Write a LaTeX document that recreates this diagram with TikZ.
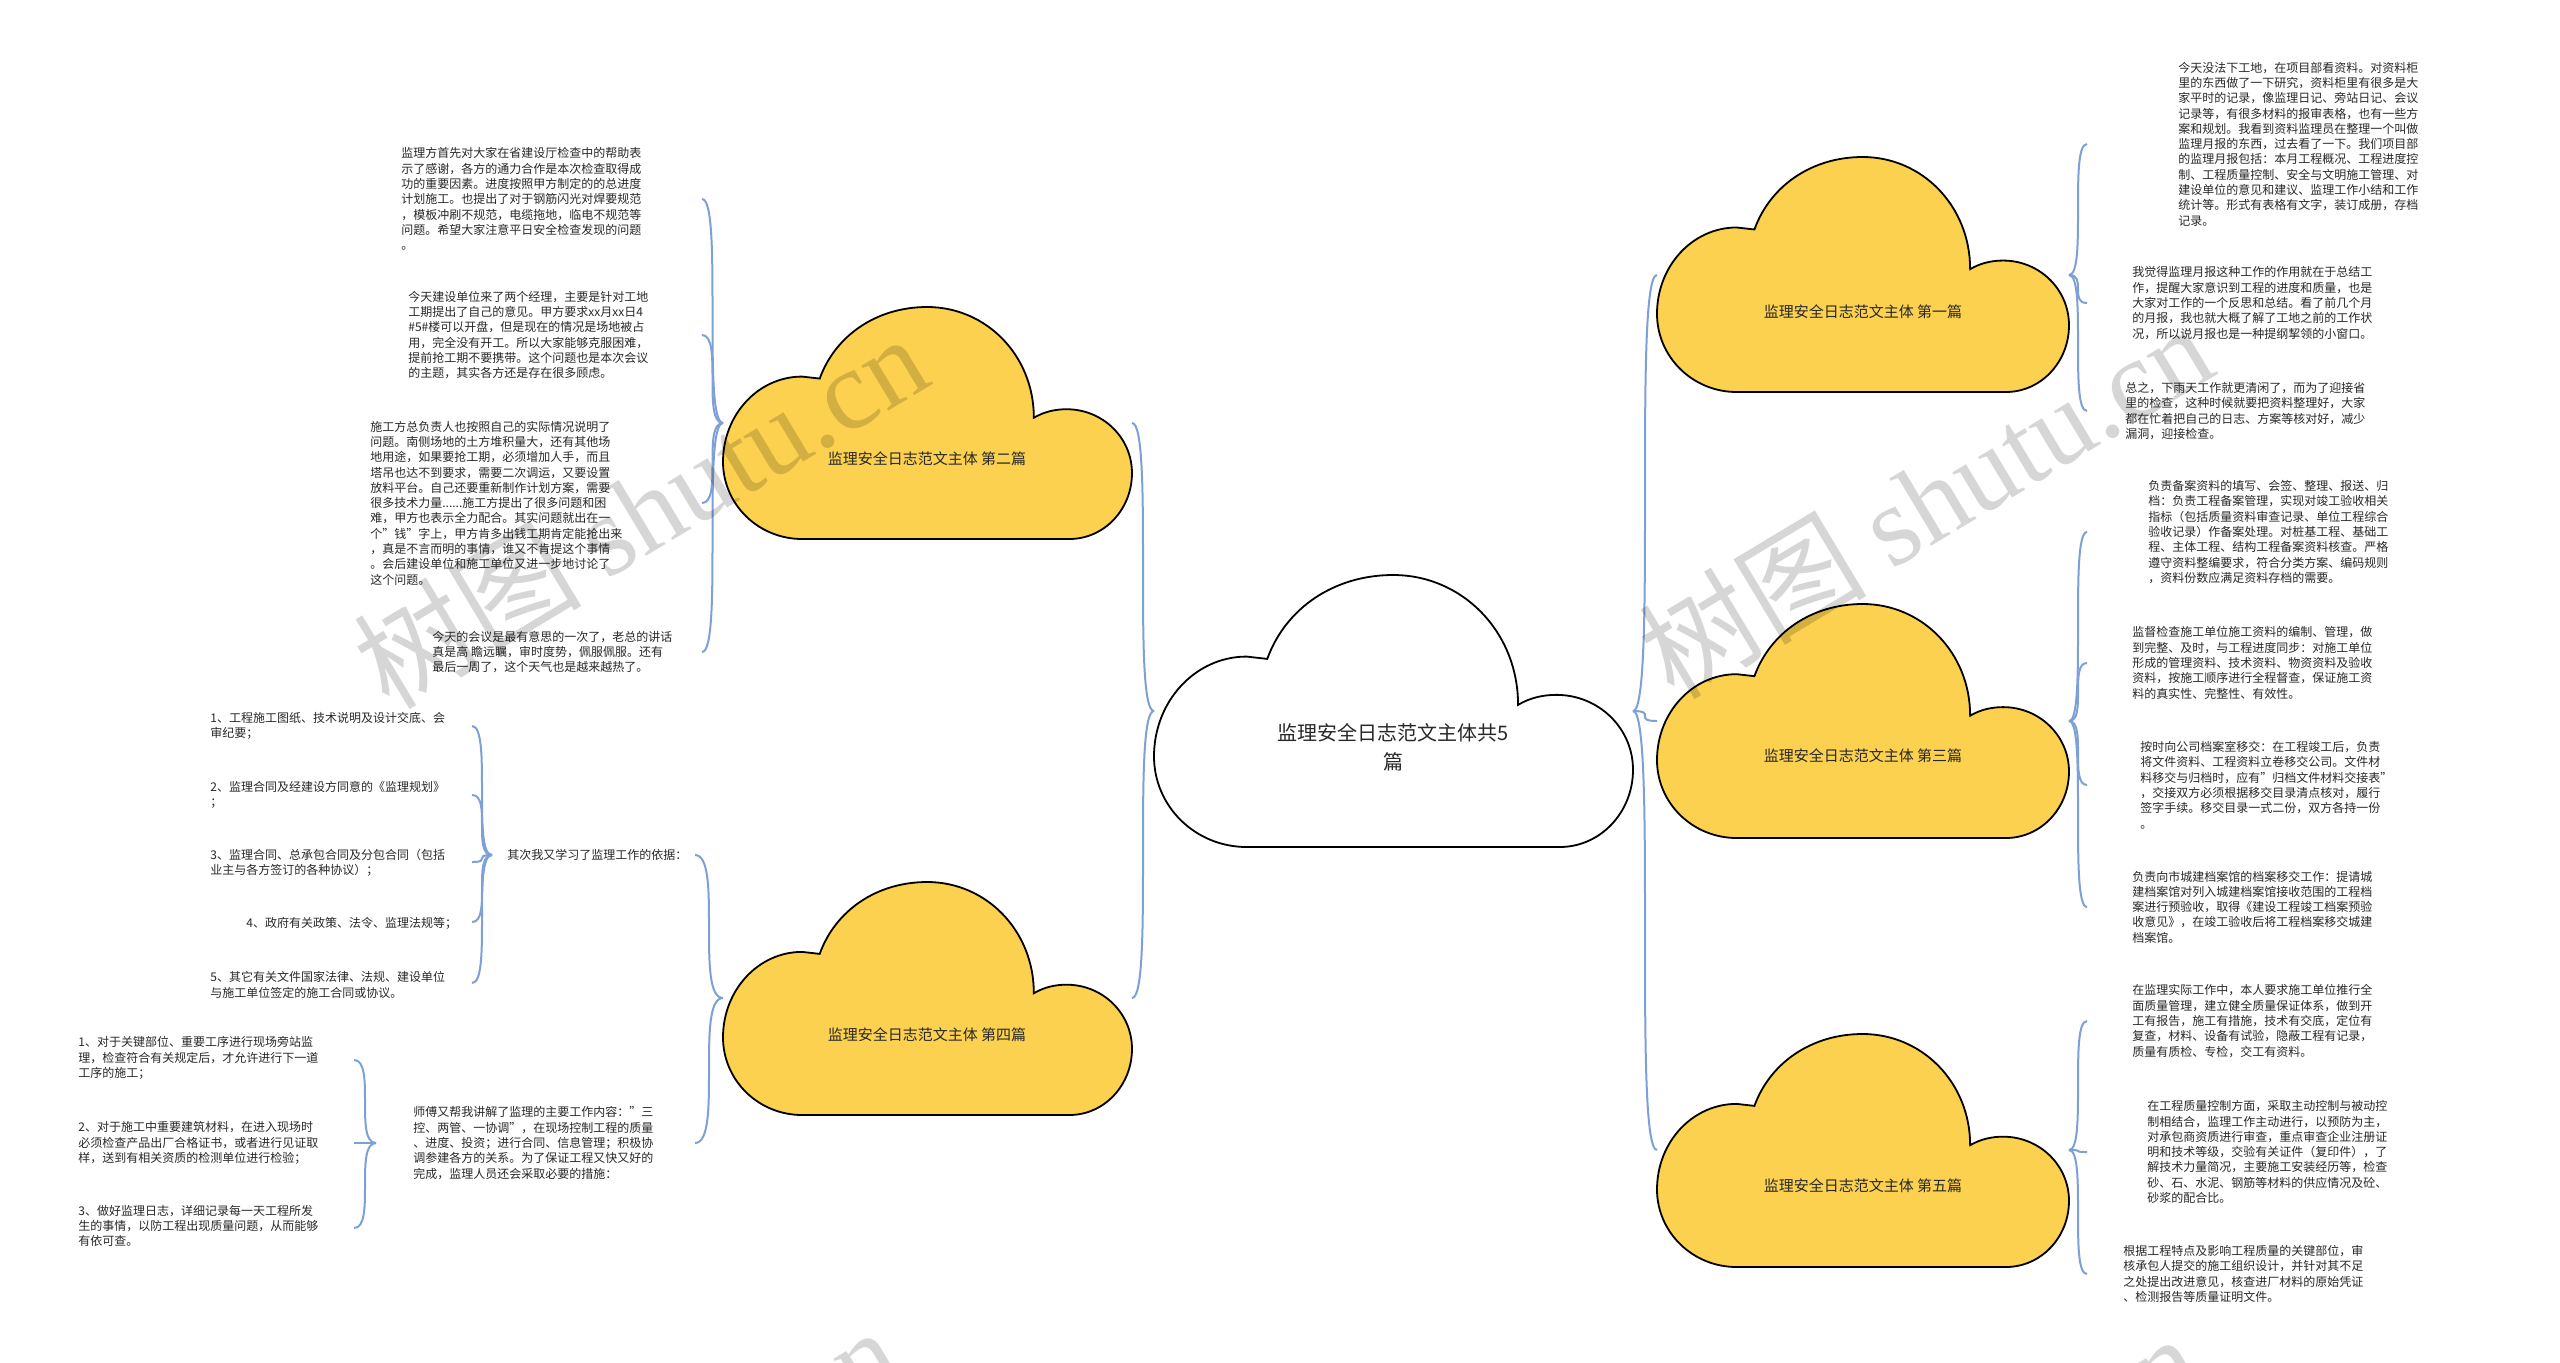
\documentclass[tikz,border=0pt]{standalone}
\usepackage{fontspec}
\setmainfont{Noto Sans CJK SC}
\newfontfamily\wmserif{Liberation Serif}
\definecolor{cloudyel}{RGB}{252,209,79}
\definecolor{linkblue}{RGB}{125,160,215}
\definecolor{txt}{RGB}{40,40,40}
\tikzset{
  cloudline/.style={draw=black, line width=0.9pt},
  link/.style={draw=linkblue, line width=1pt},
  leaf/.style={font=\fontsize{6}{7.65}\selectfont, text=txt, align=left, inner sep=0pt, anchor=west},
  cloudlabel/.style={font=\fontsize{7.5}{9}\selectfont, text=txt, inner sep=0pt, align=center},
  watermark/.style={text=black, text opacity=0.16, font=\fontsize{57}{57}\selectfont, inner sep=0pt, rotate=31},
}
\newcommand{\cloudshape}[5]{%
  \begin{scope}[shift={(#1,#2)}, xscale=#3/1438, yscale=#4/817]
    \path[cloudline, fill=#5] (278,817) .. controls (124,817) and (0,695) .. (0,545)
      .. controls (0,379) and (124,245) .. (278,245)
      -- (340,252)
      .. controls (395,100) and (540,0) .. (718,0)
      .. controls (925,0) and (1093,170) .. (1093,390)
      .. controls (1130,368) and (1170,360) .. (1208,360)
      .. controls (1335,360) and (1438,460) .. (1438,585)
      .. controls (1438,713) and (1340,817) .. (1218,817)
      -- cycle;
  \end{scope}}
\newcommand{\linkto}[2]{\draw[link] (#1) .. controls (#2 |- #1) and (#1 |- #2) .. (#2);}
\begin{document}
\begin{tikzpicture}[x=0.5pt, y=-0.5pt]
\useasboundingbox (0,0) rectangle (2560,1362);
\fill[white] (0,0) rectangle (2560,1362);

% ---------- clouds ----------
\cloudshape{1154}{575}{479}{272}{white}
\cloudshape{1657}{157}{412}{235}{cloudyel}
\cloudshape{723}{307}{409}{232}{cloudyel}
\cloudshape{1657}{604}{412}{234}{cloudyel}
\cloudshape{723}{882}{409}{233}{cloudyel}
\cloudshape{1657}{1034}{412}{233}{cloudyel}

\node[cloudlabel, font=\fontsize{10}{14.5}\selectfont] (root) at (1393,747) {监理安全日志范文主体共5\\篇};
\node[cloudlabel] (c1) at (1863,312) {监理安全日志范文主体 第一篇};
\node[cloudlabel] (c2) at (927,459) {监理安全日志范文主体 第二篇};
\node[cloudlabel] (c3) at (1863,756) {监理安全日志范文主体 第三篇};
\node[cloudlabel] (c4) at (927,1035) {监理安全日志范文主体 第四篇};
\node[cloudlabel] (c5) at (1863,1186) {监理安全日志范文主体 第五篇};

% cloud anchors
\coordinate (root-w) at (1154,711);
\coordinate (root-e) at (1633,711);
\coordinate (c1-w) at (1657,275);  \coordinate (c1-e) at (2069,275);
\coordinate (c2-e) at (1132,423);  \coordinate (c2-w) at (723,423);
\coordinate (c3-w) at (1657,721);  \coordinate (c3-e) at (2069,721);
\coordinate (c4-e) at (1132,998);  \coordinate (c4-w) at (723,998);
\coordinate (c5-w) at (1657,1150); \coordinate (c5-e) at (2069,1150);

% ---------- left texts ----------
\node[leaf] (t2a) at (401,199) {监理方首先对大家在省建设厅检查中的帮助表\\示了感谢，各方的通力合作是本次检查取得成\\功的重要因素。进度按照甲方制定的的总进度\\计划施工。也提出了对于钢筋闪光对焊要规范\\，模板冲刷不规范，电缆拖地，临电不规范等\\问题。希望大家注意平日安全检查发现的问题\\。};
\node[leaf] (t2b) at (408,335) {今天建设单位来了两个经理，主要是针对工地\\工期提出了自己的意见。甲方要求xx月xx日4\\\#5\#楼可以开盘，但是现在的情况是场地被占\\用，完全没有开工。所以大家能够克服困难，\\提前抢工期不要携带。这个问题也是本次会议\\的主题，其实各方还是存在很多顾虑。};
\node[leaf] (t2c) at (370,503) {施工方总负责人也按照自己的实际情况说明了\\问题。南侧场地的土方堆积量大，还有其他场\\地用途，如果要抢工期，必须增加人手，而且\\塔吊也达不到要求，需要二次调运，又要设置\\放料平台。自己还要重新制作计划方案，需要\\很多技术力量......施工方提出了很多问题和困\\难，甲方也表示全力配合。其实问题就出在一\\个"钱"字上，甲方肯多出钱工期肯定能抢出来\\，真是不言而明的事情，谁又不肯提这个事情\\。会后建设单位和施工单位又进一步地讨论了\\这个问题。};
\node[leaf] (t2d) at (432,652) {今天的会议是最有意思的一次了，老总的讲话\\真是高 瞻远瞩，审时度势，佩服佩服。还有\\最后一周了，这个天气也是越来越热了。};

\node[leaf] (t4a) at (507,855) {其次我又学习了监理工作的依据：};
\node[leaf] (t4b) at (413,1143) {师傅又帮我讲解了监理的主要工作内容："三\\控、两管、一协调"，在现场控制工程的质量\\、进度、投资；进行合同、信息管理；积极协\\调参建各方的关系。为了保证工程又快又好的\\完成，监理人员还会采取必要的措施：};

\node[leaf] (l1) at (210,726) {1、工程施工图纸、技术说明及设计交底、会\\审纪要；};
\node[leaf] (l2) at (210,795) {2、监理合同及经建设方同意的《监理规划》\\；};
\node[leaf] (l3) at (210,863) {3、监理合同、总承包合同及分包合同（包括\\业主与各方签订的各种协议）；};
\node[leaf] (l4) at (246,923) {4、政府有关政策、法令、监理法规等；};
\node[leaf] (l5) at (210,985) {5、其它有关文件国家法律、法规、建设单位\\与施工单位签定的施工合同或协议。};

\node[leaf] (la) at (78,1058) {1、对于关键部位、重要工序进行现场旁站监\\理，检查符合有关规定后，才允许进行下一道\\工序的施工；};
\node[leaf] (lb) at (78,1143) {2、对于施工中重要建筑材料，在进入现场时\\必须检查产品出厂合格证书，或者进行见证取\\样，送到有相关资质的检测单位进行检验；};
\node[leaf] (lc) at (78,1226) {3、做好监理日志，详细记录每一天工程所发\\生的事情，以防工程出现质量问题，从而能够\\有依可查。};

% ---------- right texts ----------
\node[leaf] (r1a) at (2178,144) {今天没法下工地，在项目部看资料。对资料柜\\里的东西做了一下研究，资料柜里有很多是大\\家平时的记录，像监理日记、旁站日记、会议\\记录等，有很多材料的报审表格，也有一些方\\案和规划。我看到资料监理员在整理一个叫做\\监理月报的东西，过去看了一下。我们项目部\\的监理月报包括：本月工程概况、工程进度控\\制、工程质量控制、安全与文明施工管理、对\\建设单位的意见和建议、监理工作小结和工作\\统计等。形式有表格有文字，装订成册，存档\\记录。};
\node[leaf] (r1b) at (2132,303) {我觉得监理月报这种工作的作用就在于总结工\\作，提醒大家意识到工程的进度和质量，也是\\大家对工作的一个反思和总结。看了前几个月\\的月报，我也就大概了解了工地之前的工作状\\况，所以说月报也是一种提纲挈领的小窗口。};
\node[leaf] (r1c) at (2125,411) {总之，下雨天工作就更清闲了，而为了迎接省\\里的检查，这种时候就要把资料整理好，大家\\都在忙着把自己的日志、方案等核对好，减少\\漏洞，迎接检查。};

\node[leaf] (r3a) at (2148,532) {负责备案资料的填写、会签、整理、报送、归\\档：负责工程备案管理，实现对竣工验收相关\\指标（包括质量资料审查记录、单位工程综合\\验收记录）作备案处理。对桩基工程、基础工\\程、主体工程、结构工程备案资料核查。严格\\遵守资料整编要求，符合分类方案、编码规则\\，资料份数应满足资料存档的需要。};
\node[leaf] (r3b) at (2132,663) {监督检查施工单位施工资料的编制、管理，做\\到完整、及时，与工程进度同步：对施工单位\\形成的管理资料、技术资料、物资资料及验收\\资料，按施工顺序进行全程督查，保证施工资\\料的真实性、完整性、有效性。};
\node[leaf] (r3c) at (2140,785) {按时向公司档案室移交：在工程竣工后，负责\\将文件资料、工程资料立卷移交公司。文件材\\料移交与归档时，应有"归档文件材料交接表"\\，交接双方必须根据移交目录清点核对，履行\\签字手续。移交目录一式二份，双方各持一份\\。};
\node[leaf] (r3d) at (2132,907) {负责向市城建档案馆的档案移交工作：提请城\\建档案馆对列入城建档案馆接收范围的工程档\\案进行预验收，取得《建设工程竣工档案预验\\收意见》，在竣工验收后将工程档案移交城建\\档案馆。};

\node[leaf] (r5a) at (2132,1021) {在监理实际工作中，本人要求施工单位推行全\\面质量管理，建立健全质量保证体系，做到开\\工有报告，施工有措施，技术有交底，定位有\\复查，材料、设备有试验，隐蔽工程有记录，\\质量有质检、专检，交工有资料。};
\node[leaf] (r5b) at (2147,1152) {在工程质量控制方面，采取主动控制与被动控\\制相结合，监理工作主动进行，以预防为主，\\对承包商资质进行审查，重点审查企业注册证\\明和技术等级，交验有关证件（复印件），了\\解技术力量简况，主要施工安装经历等，检查\\砂、石、水泥、钢筋等材料的供应情况及砼、\\砂浆的配合比。};
\node[leaf] (r5c) at (2123,1274) {根据工程特点及影响工程质量的关键部位，审\\核承包人提交的施工组织设计，并针对其不足\\之处提出改进意见，核查进厂材料的原始凭证\\、检测报告等质量证明文件。};

% ---------- connector end points ----------
\coordinate (t2a-e) at (702,199);
\coordinate (t2b-e) at (702,335);
\coordinate (t2c-e) at (702,503);
\coordinate (t2d-e) at (702,652);
\coordinate (t4a-e) at (695,855);
\coordinate (t4b-e) at (695,1143);
\coordinate (t4a-w) at (492,855);
\coordinate (t4b-w) at (376,1143);
\coordinate (l1-e) at (472,726);
\coordinate (l2-e) at (472,795);
\coordinate (l3-e) at (472,862);
\coordinate (l4-e) at (472,922);
\coordinate (l5-e) at (472,983);
\coordinate (la-e) at (354,1060);
\coordinate (lb-e) at (354,1143);
\coordinate (lc-e) at (354,1228);
\coordinate (r1a-w) at (2087,144);
\coordinate (r1b-w) at (2087,303);
\coordinate (r1c-w) at (2087,411);
\coordinate (r3a-w) at (2087,532);
\coordinate (r3b-w) at (2087,663);
\coordinate (r3c-w) at (2087,785);
\coordinate (r3d-w) at (2087,907);
\coordinate (r5a-w) at (2087,1021);
\coordinate (r5b-w) at (2087,1152);
\coordinate (r5c-w) at (2087,1274);

% ---------- connectors ----------
\linkto{root-w}{c2-e}
\linkto{root-w}{c4-e}
\linkto{root-e}{c1-w}
\linkto{root-e}{c3-w}
\linkto{root-e}{c5-w}
\linkto{c2-w}{t2a-e}
\linkto{c2-w}{t2b-e}
\linkto{c2-w}{t2c-e}
\linkto{c2-w}{t2d-e}
\linkto{c4-w}{t4a-e}
\linkto{c4-w}{t4b-e}
\linkto{t4a-w}{l1-e}
\linkto{t4a-w}{l2-e}
\linkto{t4a-w}{l3-e}
\linkto{t4a-w}{l4-e}
\linkto{t4a-w}{l5-e}
\linkto{t4b-w}{la-e}
\linkto{t4b-w}{lb-e}
\linkto{t4b-w}{lc-e}
\linkto{c1-e}{r1a-w}
\linkto{c1-e}{r1b-w}
\linkto{c1-e}{r1c-w}
\linkto{c3-e}{r3a-w}
\linkto{c3-e}{r3b-w}
\linkto{c3-e}{r3c-w}
\linkto{c3-e}{r3d-w}
\linkto{c5-e}{r5a-w}
\linkto{c5-e}{r5b-w}
\linkto{c5-e}{r5c-w}

% ---------- watermarks ----------
\node[watermark] (wm1) at (640,510) {树图 {\wmserif shutu.cn}};
\node[watermark] (wm2) at (1925,500) {树图 {\wmserif shutu.cn}};
\node[watermark] (wm3) at (612,1503) {树图 {\wmserif shutu.cn}};
\node[watermark] (wm4) at (1912,1510) {树图 {\wmserif shutu.cn}};
\end{tikzpicture}
\end{document}
